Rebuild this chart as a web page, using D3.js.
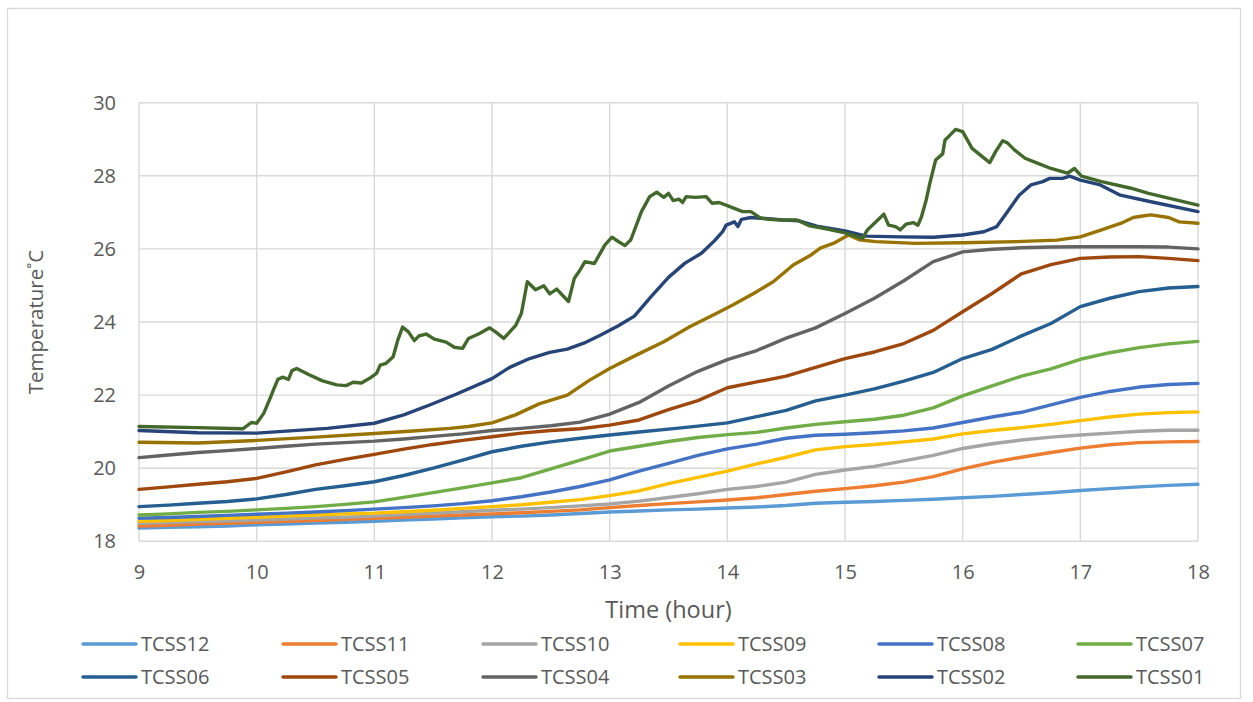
<!DOCTYPE html>
<html>
<head>
<meta charset="utf-8">
<script src="https://cdn.jsdelivr.net/npm/d3@7"></script>
<style>
  body { margin: 0; background: #fff; }
  svg { display: block; }
  text { font-family: "Open Sans", "Liberation Sans", sans-serif; fill: #595959; }
</style>
</head>
<body>
<svg id="chart" width="1253" height="702"></svg>
<script>
// Sensor names in legend order (first drawn at the bottom, TCSS01 on top)
const seriesNames = ["TCSS12", "TCSS11", "TCSS10", "TCSS09", "TCSS08", "TCSS07",
                     "TCSS06", "TCSS05", "TCSS04", "TCSS03", "TCSS02", "TCSS01"];
const seriesColors = ["#5B9BD5", "#ED7D31", "#A5A5A5", "#FFC000", "#4472C4", "#70AD47",
                      "#255E91", "#9E480E", "#636363", "#997300", "#264478", "#43682B"];

const xTicks = [9, 10, 11, 12, 13, 14, 15, 16, 17, 18];
const yTicks = [18, 20, 22, 24, 26, 28, 30];

// Quarter-hour readings for the slowly varying sensors (°C)
const hours = [9, 9.25, 9.5, 9.75, 10, 10.25, 10.5, 10.75, 11, 11.25, 11.5, 11.75,
               12, 12.25, 12.5, 12.75, 13, 13.25, 13.5, 13.75, 14, 14.25, 14.5, 14.75,
               15, 15.25, 15.5, 15.75, 16, 16.25, 16.5, 16.75, 17, 17.25, 17.5, 17.75, 18];

const tcss12 = [18.36, 18.38, 18.40, 18.42, 18.45, 18.47, 18.50, 18.52, 18.55, 18.58, 18.61, 18.64,
                18.67, 18.69, 18.72, 18.76, 18.80, 18.83, 18.86, 18.88, 18.91, 18.94, 18.98, 19.04,
                19.07, 19.09, 19.12, 19.15, 19.19, 19.23, 19.28, 19.33, 19.39, 19.44, 19.49, 19.53, 19.56];
const tcss11 = [18.42, 18.44, 18.47, 18.49, 18.52, 18.55, 18.57, 18.60, 18.63, 18.66, 18.69, 18.72,
                18.75, 18.78, 18.82, 18.86, 18.92, 18.98, 19.03, 19.08, 19.13, 19.19, 19.28, 19.37,
                19.44, 19.52, 19.62, 19.77, 19.98, 20.16, 20.30, 20.43, 20.55, 20.64, 20.70, 20.72, 20.73];
const tcss10 = [18.49, 18.51, 18.54, 18.56, 18.58, 18.61, 18.64, 18.66, 18.69, 18.73, 18.77, 18.81,
                18.85, 18.88, 18.92, 18.97, 19.02, 19.10, 19.20, 19.30, 19.42, 19.50, 19.62, 19.83,
                19.95, 20.05, 20.20, 20.35, 20.54, 20.67, 20.77, 20.85, 20.91, 20.96, 21.01, 21.04, 21.04];
const tcss09 = [18.55, 18.57, 18.60, 18.63, 18.66, 18.69, 18.72, 18.75, 18.77, 18.81, 18.85, 18.90,
                18.95, 19.00, 19.07, 19.14, 19.25, 19.38, 19.58, 19.75, 19.92, 20.12, 20.30, 20.50,
                20.59, 20.65, 20.72, 20.80, 20.94, 21.03, 21.11, 21.20, 21.30, 21.40, 21.48, 21.52, 21.54];
const tcss08 = [18.63, 18.65, 18.68, 18.71, 18.74, 18.77, 18.80, 18.84, 18.88, 18.92, 18.97, 19.03,
                19.11, 19.22, 19.35, 19.50, 19.68, 19.92, 20.13, 20.35, 20.53, 20.66, 20.82, 20.90,
                20.93, 20.97, 21.02, 21.10, 21.25, 21.40, 21.53, 21.73, 21.94, 22.10, 22.22, 22.29, 22.32];
const tcss07 = [18.72, 18.75, 18.79, 18.82, 18.86, 18.90, 18.95, 19.01, 19.08, 19.20, 19.33, 19.46,
                19.60, 19.74, 19.98, 20.22, 20.47, 20.60, 20.73, 20.84, 20.92, 20.98, 21.10, 21.20,
                21.27, 21.34, 21.45, 21.65, 21.98, 22.25, 22.52, 22.72, 22.98, 23.16, 23.30, 23.40, 23.47];
const tcss06 = [18.95, 18.99, 19.04, 19.09, 19.16, 19.28, 19.42, 19.52, 19.63, 19.80, 20.00, 20.22,
                20.45, 20.60, 20.72, 20.82, 20.91, 20.99, 21.07, 21.15, 21.24, 21.41, 21.58, 21.84,
                22.00, 22.17, 22.38, 22.62, 23.00, 23.25, 23.62, 23.96, 24.42, 24.65, 24.83, 24.93, 24.97];
const tcss05 = [19.42, 19.49, 19.56, 19.63, 19.72, 19.90, 20.09, 20.24, 20.38, 20.52, 20.65, 20.76,
                20.86, 20.96, 21.03, 21.08, 21.18, 21.32, 21.60, 21.85, 22.20, 22.36, 22.52, 22.76,
                23.00, 23.18, 23.41, 23.77, 24.28, 24.78, 25.32, 25.57, 25.74, 25.78, 25.79, 25.74, 25.68];
const tcss04 = [20.29, 20.36, 20.43, 20.48, 20.54, 20.60, 20.66, 20.70, 20.74, 20.80, 20.87, 20.94,
                21.03, 21.09, 21.16, 21.26, 21.48, 21.80, 22.25, 22.65, 22.97, 23.22, 23.56, 23.84,
                24.23, 24.65, 25.13, 25.65, 25.92, 25.99, 26.03, 26.05, 26.06, 26.06, 26.06, 26.05, 26.00];

// Irregular [hour, °C] readings for the sensors with sharper swings
const tcss03 = [[9, 20.71], [9.5, 20.69], [10, 20.76], [10.5, 20.85], [11, 20.95], [11.3, 21.01],
  [11.64, 21.09], [11.8, 21.14], [12, 21.24], [12.2, 21.46], [12.4, 21.76], [12.64, 22.0],
  [12.83, 22.41], [13, 22.73], [13.23, 23.10], [13.46, 23.46], [13.68, 23.87], [13.91, 24.24],
  [14.05, 24.47], [14.25, 24.83], [14.39, 25.10], [14.56, 25.56], [14.7, 25.81], [14.79, 26.02],
  [14.9, 26.15], [15.03, 26.38], [15.12, 26.25], [15.26, 26.20], [15.6, 26.15], [16, 26.17],
  [16.46, 26.20], [16.8, 26.24], [17, 26.33], [17.18, 26.52], [17.36, 26.72], [17.45, 26.86],
  [17.53, 26.90], [17.6, 26.93], [17.75, 26.86], [17.84, 26.74], [18, 26.70]];

const tcss02 = [[9, 21.03], [9.5, 20.97], [10, 20.96], [10.6, 21.09], [11, 21.23], [11.25, 21.46],
  [11.47, 21.73], [11.7, 22.03], [12, 22.45], [12.15, 22.76], [12.32, 23.0], [12.49, 23.17],
  [12.64, 23.26], [12.78, 23.42], [12.92, 23.64], [13.07, 23.89], [13.21, 24.16], [13.35, 24.69],
  [13.5, 25.22], [13.64, 25.61], [13.78, 25.88], [13.89, 26.22], [13.96, 26.47], [13.99, 26.65],
  [14.06, 26.74], [14.09, 26.61], [14.12, 26.81], [14.2, 26.86], [14.32, 26.83], [14.47, 26.79],
  [14.61, 26.77], [14.76, 26.62], [15.0, 26.49], [15.18, 26.35], [15.47, 26.33], [15.75, 26.32],
  [16.0, 26.38], [16.18, 26.47], [16.29, 26.61], [16.37, 26.97], [16.48, 27.47], [16.58, 27.75],
  [16.68, 27.84], [16.74, 27.93], [16.85, 27.93], [16.91, 27.99], [17.0, 27.88], [17.17, 27.75],
  [17.34, 27.47], [17.6, 27.29], [18, 27.02]];

const tcss01 = [[9, 21.14], [9.49, 21.11], [9.885, 21.08], [9.955, 21.25], [10.0, 21.23],
  [10.06, 21.50], [10.12, 21.96], [10.14, 22.12], [10.18, 22.43], [10.22, 22.49], [10.27, 22.43],
  [10.30, 22.67], [10.34, 22.73], [10.45, 22.55], [10.56, 22.39], [10.68, 22.28], [10.76, 22.26],
  [10.82, 22.35], [10.89, 22.33], [10.96, 22.46], [11.02, 22.60], [11.05, 22.82], [11.1, 22.87],
  [11.16, 23.05], [11.2, 23.51], [11.24, 23.86], [11.29, 23.73], [11.34, 23.49], [11.38, 23.62],
  [11.44, 23.67], [11.51, 23.53], [11.61, 23.45], [11.68, 23.31], [11.75, 23.28], [11.8, 23.55],
  [11.89, 23.68], [11.98, 23.84], [12.03, 23.73], [12.1, 23.55], [12.2, 23.90], [12.25, 24.24],
  [12.3, 25.10], [12.37, 24.88], [12.44, 24.99], [12.49, 24.77], [12.55, 24.90], [12.65, 24.56],
  [12.7, 25.20], [12.74, 25.38], [12.79, 25.65], [12.87, 25.60], [12.96, 26.11], [13.02, 26.32],
  [13.06, 26.23], [13.13, 26.09], [13.18, 26.25], [13.27, 27.02], [13.34, 27.43], [13.4, 27.55],
  [13.46, 27.41], [13.5, 27.52], [13.54, 27.32], [13.59, 27.36], [13.62, 27.27], [13.65, 27.43],
  [13.73, 27.41], [13.82, 27.43], [13.87, 27.25], [13.93, 27.27], [14.01, 27.17], [14.13, 27.02],
  [14.2, 27.02], [14.28, 26.85], [14.35, 26.81], [14.47, 26.79], [14.59, 26.79], [14.7, 26.63],
  [14.84, 26.55], [15.0, 26.44], [15.15, 26.29], [15.19, 26.52], [15.25, 26.70], [15.33, 26.95],
  [15.37, 26.65], [15.43, 26.61], [15.47, 26.52], [15.52, 26.68], [15.58, 26.72], [15.62, 26.65],
  [15.65, 26.88], [15.69, 27.34], [15.72, 27.78], [15.77, 28.43], [15.83, 28.60], [15.85, 28.98],
  [15.88, 29.07], [15.94, 29.27], [16.0, 29.21], [16.08, 28.75], [16.23, 28.36], [16.28, 28.66],
  [16.34, 28.96], [16.38, 28.90], [16.44, 28.71], [16.53, 28.48], [16.64, 28.34], [16.75, 28.20],
  [16.89, 28.07], [16.95, 28.20], [17.01, 27.99], [17.18, 27.84], [17.43, 27.66], [17.58, 27.52],
  [17.75, 27.39], [18.0, 27.20]];

// Assemble every series as a list of {t, v} points
const gridSeries = [tcss12, tcss11, tcss10, tcss09, tcss08, tcss07, tcss06, tcss05, tcss04];
const pairSeries = [tcss03, tcss02, tcss01];
const series = seriesNames.map((name, i) => {
  let pts;
  if (i < gridSeries.length) pts = gridSeries[i].map((v, k) => ({ t: hours[k], v }));
  else pts = pairSeries[i - gridSeries.length].map(([t, v]) => ({ t, v }));
  return { name, color: seriesColors[i], pts };
});

const svg = d3.select("#chart");
const plot = { left: 139, right: 1198, top: 102.7, bottom: 541.3 };

// Outer chart frame
svg.append("rect")
  .attr("x", 7.5).attr("y", 8.5).attr("width", 1233).attr("height", 690)
  .attr("fill", "#fff").attr("stroke", "#d9d9d9").attr("stroke-width", 1.3);

const x = d3.scaleLinear().domain([9, 18]).range([plot.left, plot.right]);
const y = d3.scaleLinear().domain([18, 30]).range([plot.bottom, plot.top]);

// Gridlines
const grid = svg.append("g").attr("stroke", "#d9d9d9").attr("stroke-width", 1.4);
grid.selectAll("line.h").data(yTicks).join("line")
  .attr("x1", plot.left).attr("x2", plot.right)
  .attr("y1", d => y(d)).attr("y2", d => y(d));
grid.selectAll("line.v").data(xTicks).join("line")
  .attr("y1", plot.top).attr("y2", plot.bottom)
  .attr("x1", d => x(d)).attr("x2", d => x(d));

// Axes (labels only; gridlines drawn above)
const xAxis = svg.append("g")
  .attr("transform", `translate(0,${plot.bottom})`)
  .call(d3.axisBottom(x).tickValues(xTicks).tickSize(0).tickPadding(24).tickFormat(d3.format("d")));
const yAxis = svg.append("g")
  .attr("transform", `translate(${plot.left},0)`)
  .call(d3.axisLeft(y).tickValues(yTicks).tickSize(0).tickPadding(23).tickFormat(d3.format("d")));
[xAxis, yAxis].forEach(g => {
  g.select(".domain").remove();
  g.selectAll("text").attr("fill", "#595959").style("font-size", "20px")
    .style("font-family", "\"Open Sans\", sans-serif");
});

// Axis titles
svg.append("text")
  .attr("x", (plot.left + plot.right) / 2).attr("y", 618)
  .attr("text-anchor", "middle").style("font-size", "23.5px")
  .text("Time (hour)");
svg.append("text")
  .attr("transform", `translate(43,${(plot.top + plot.bottom) / 2}) rotate(-90)`)
  .attr("text-anchor", "middle").style("font-size", "20.5px")
  .text("Temperature˚C");

// Series lines
const line = d3.line().x(d => x(d.t)).y(d => y(d.v)).curve(d3.curveLinear);
svg.append("g").selectAll("path").data(series).join("path")
  .attr("d", d => line(d.pts))
  .attr("fill", "none")
  .attr("stroke", d => d.color)
  .attr("stroke-width", 3.4)
  .attr("stroke-linejoin", "round")
  .attr("stroke-linecap", "round");

// Legend: two rows of six entries
const legend = svg.append("g");
const colX = [83, 283, 483, 680, 879, 1078];
const rowY = [644, 677];
const items = legend.selectAll("g").data(series).join("g")
  .attr("transform", (d, i) => `translate(${colX[i % 6]},${rowY[Math.floor(i / 6)]})`);
items.append("line")
  .attr("x1", 0).attr("x2", 53).attr("y1", 0).attr("y2", 0)
  .attr("stroke", d => d.color).attr("stroke-width", 3.5).attr("stroke-linecap", "round");
items.append("text")
  .attr("x", 58).attr("y", 0).attr("dy", "0.35em")
  .style("font-size", "20px")
  .text(d => d.name);
</script>
</body>
</html>
